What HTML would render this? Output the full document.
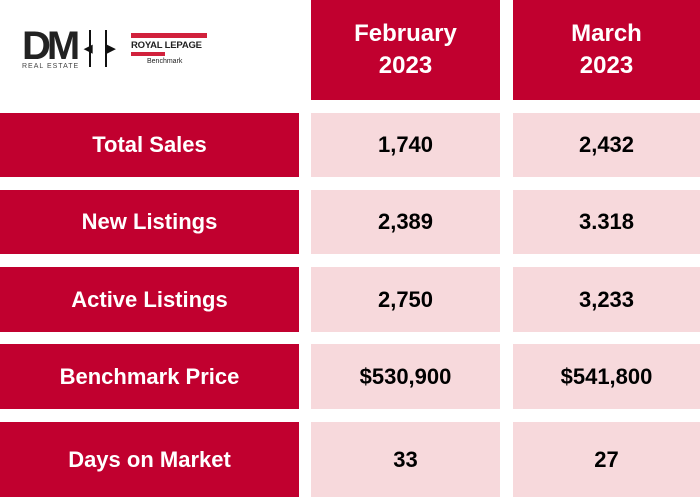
<!DOCTYPE html>
<html><head><meta charset="utf-8"><style>
body{margin:0;width:700px;height:502px;background:#fff;position:relative;overflow:hidden;font-family:"Liberation Sans",sans-serif;font-weight:bold}
.c{position:absolute;display:flex;align-items:center;justify-content:center;text-align:center}
.r{background:#c1002f;color:#fff;font-size:22px}
.p{background:#f7d9dc;color:#000;font-size:22px}
.h{background:#c1002f;color:#fff;font-size:24px;line-height:32px}
</style></head><body>
<div style="position:absolute;left:22px;top:30px;width:190px;height:42px">
<div style="position:absolute;left:0;top:0;font-size:40px;letter-spacing:-4px;color:#222;line-height:33px">DM</div>
<div style="position:absolute;left:0;top:33px;font-size:7px;font-weight:normal;color:#444;letter-spacing:1px">REAL ESTATE</div>
<div style="position:absolute;left:67px;top:0;width:2px;height:37px;background:#111"></div>
<div style="position:absolute;left:83px;top:0;width:2px;height:37px;background:#111"></div>
<div style="position:absolute;left:62px;top:14px;font-size:11px;color:#111;line-height:10px">◀</div>
<div style="position:absolute;left:85px;top:14px;font-size:11px;color:#111;line-height:10px">▶</div>
<div style="position:absolute;left:109px;top:3px;width:76px;height:5px;background:#d1213c"></div>
<div style="position:absolute;left:109px;top:10px;font-size:9.5px;color:#222;letter-spacing:-0.2px">ROYAL LEPAGE</div>
<div style="position:absolute;left:109px;top:22px;width:34px;height:4px;background:#d1213c"></div>
<div style="position:absolute;left:125px;top:28px;font-size:7px;font-weight:normal;color:#222">Benchmark</div>
</div>
<div class="c h" style="left:311px;top:0;width:189px;height:100px">February<br>2023</div>
<div class="c h" style="left:513px;top:0;width:187px;height:100px">March<br>2023</div>

<div class="c r" style="left:0;top:113px;width:299px;height:64px">Total Sales</div>
<div class="c p" style="left:311px;top:113px;width:189px;height:64px">1,740</div>
<div class="c p" style="left:513px;top:113px;width:187px;height:64px">2,432</div>

<div class="c r" style="left:0;top:190px;width:299px;height:64px">New Listings</div>
<div class="c p" style="left:311px;top:190px;width:189px;height:64px">2,389</div>
<div class="c p" style="left:513px;top:190px;width:187px;height:64px">3.318</div>

<div class="c r" style="left:0;top:267px;width:299px;height:65px">Active Listings</div>
<div class="c p" style="left:311px;top:267px;width:189px;height:65px">2,750</div>
<div class="c p" style="left:513px;top:267px;width:187px;height:65px">3,233</div>

<div class="c r" style="left:0;top:344px;width:299px;height:65px">Benchmark Price</div>
<div class="c p" style="left:311px;top:344px;width:189px;height:65px">$530,900</div>
<div class="c p" style="left:513px;top:344px;width:187px;height:65px">$541,800</div>

<div class="c r" style="left:0;top:422px;width:299px;height:75px">Days on Market</div>
<div class="c p" style="left:311px;top:422px;width:189px;height:75px">33</div>
<div class="c p" style="left:513px;top:422px;width:187px;height:75px">27</div>
</body></html>
